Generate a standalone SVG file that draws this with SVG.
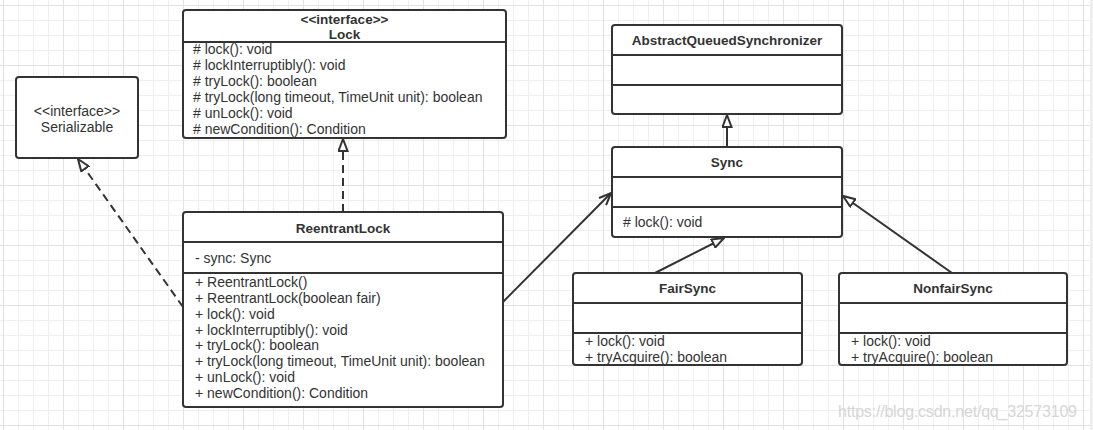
<svg xmlns="http://www.w3.org/2000/svg" width="1093" height="430" viewBox="0 0 1093 430">
<defs>
<pattern id="grid" patternUnits="userSpaceOnUse" x="3" y="5" width="60" height="60">
<path d="M15.5 0V60M30.5 0V60M45.5 0V60M0 15.5H60M0 30.5H60M0 45.5H60" stroke="#efefef" stroke-width="1" fill="none"/>
<path d="M0.5 0V60M0 0.5H60" stroke="#e2e2e2" stroke-width="1" fill="none"/>
</pattern>
<marker id="tri" markerUnits="userSpaceOnUse" viewBox="0 0 14 11" refX="13" refY="5.5" markerWidth="14" markerHeight="11" orient="auto">
<path d="M1 1L13 5.5L1 10Z" fill="#fff" stroke="#333" stroke-width="2" stroke-linejoin="miter"/>
</marker>
<marker id="open" markerUnits="userSpaceOnUse" viewBox="0 0 14 12" refX="13" refY="6" markerWidth="14" markerHeight="12" orient="auto">
<path d="M1 1L13 6L1 11" fill="none" stroke="#333" stroke-width="2"/>
</marker>
</defs>
<style>
.box{fill:#fff;stroke:#333;stroke-width:2}
.div{stroke:#333;stroke-width:2}
text{font-family:"Liberation Sans",Arial,sans-serif;font-size:14px;fill:#333}
.t{font-weight:bold;font-size:13.5px;text-anchor:middle}
.c{text-anchor:middle}
.edge{stroke:#333;stroke-width:2;fill:none}
.dash{stroke-dasharray:8 5}
</style>
<rect width="1093" height="430" fill="#fff"/>
<rect width="1093" height="430" fill="url(#grid)"/>
<rect x="1090" y="0" width="3" height="430" fill="#efefef"/>

<g id="connectors">
<path class="edge dash" d="M343 212L343 139" marker-end="url(#tri)"/>
<path class="edge dash" d="M183 307L78 159" marker-end="url(#tri)"/>
<path class="edge" d="M503 302L611 193" marker-end="url(#open)"/>
<path class="edge" d="M727 147L727 115" marker-end="url(#tri)"/>
<path class="edge" d="M655 273L724 238" marker-end="url(#tri)"/>
<path class="edge" d="M952 273L843 196" marker-end="url(#tri)"/>
</g>

<g id="Lock">
<rect class="box" x="183" y="10" width="323" height="128" rx="3"/>
<line class="div" x1="183" y1="42" x2="506" y2="42"/>
<text class="t" x="344.5" y="23.5">&lt;&lt;interface&gt;&gt;</text>
<text class="t" x="344.5" y="39">Lock</text>
<text x="193" y="54"># lock(): void</text>
<text x="193" y="70"># lockInterruptibly(): void</text>
<text x="193" y="86"># tryLock(): boolean</text>
<text x="193" y="102"># tryLock(long timeout, TimeUnit unit): boolean</text>
<text x="193" y="118"># unLock(): void</text>
<text x="193" y="134"># newCondition(): Condition</text>
</g>

<g id="Serializable">
<rect class="box" x="16" y="77" width="122" height="81" rx="3"/>
<text class="c" x="77" y="115.5">&lt;&lt;interface&gt;&gt;</text>
<text class="c" x="77" y="131.5">Serializable</text>
</g>

<g id="ReentrantLock">
<rect class="box" x="183" y="212" width="320" height="195" rx="3"/>
<line class="div" x1="183" y1="242" x2="503" y2="242"/>
<line class="div" x1="183" y1="273" x2="503" y2="273"/>
<text class="t" x="343" y="232.5">ReentrantLock</text>
<text x="195" y="263">- sync: Sync</text>
<text x="195" y="286.5">+ ReentrantLock()</text>
<text x="195" y="302.5">+ ReentrantLock(boolean fair)</text>
<text x="195" y="318.5">+ lock(): void</text>
<text x="195" y="334.5">+ lockInterruptibly(): void</text>
<text x="195" y="350">+ tryLock(): boolean</text>
<text x="195" y="366">+ tryLock(long timeout, TimeUnit unit): boolean</text>
<text x="195" y="382">+ unLock(): void</text>
<text x="195" y="398">+ newCondition(): Condition</text>
</g>

<g id="AbstractQueuedSynchronizer">
<rect class="box" x="612" y="25" width="230" height="89" rx="3"/>
<line class="div" x1="612" y1="55" x2="842" y2="55"/>
<line class="div" x1="612" y1="85" x2="842" y2="85"/>
<text class="t" x="727" y="44.5">AbstractQueuedSynchronizer</text>
</g>

<g id="Sync">
<rect class="box" x="612" y="147" width="230" height="90" rx="3"/>
<line class="div" x1="612" y1="177" x2="842" y2="177"/>
<line class="div" x1="612" y1="207" x2="842" y2="207"/>
<text class="t" x="727" y="166.5">Sync</text>
<text x="623" y="227"># lock(): void</text>
</g>

<g id="FairSync">
<rect class="box" x="573" y="273" width="229" height="92" rx="3"/>
<line class="div" x1="573" y1="303" x2="802" y2="303"/>
<line class="div" x1="573" y1="333" x2="802" y2="333"/>
<text class="t" x="687.5" y="292.5">FairSync</text>
<text x="585" y="346">+ lock(): void</text>
<text x="585" y="362">+ tryAcquire(): boolean</text>
</g>

<g id="NonfairSync">
<rect class="box" x="839" y="273" width="228" height="92" rx="3"/>
<line class="div" x1="839" y1="303" x2="1067" y2="303"/>
<line class="div" x1="839" y1="333" x2="1067" y2="333"/>
<text class="t" x="953" y="292.5">NonfairSync</text>
<text x="851" y="346">+ lock(): void</text>
<text x="851" y="362">+ tryAcquire(): boolean</text>
</g>

<text x="838" y="417" style="font-size:16px;fill:#d6d6d6" textLength="239">https://blog.csdn.net/qq_32573109</text>
</svg>
